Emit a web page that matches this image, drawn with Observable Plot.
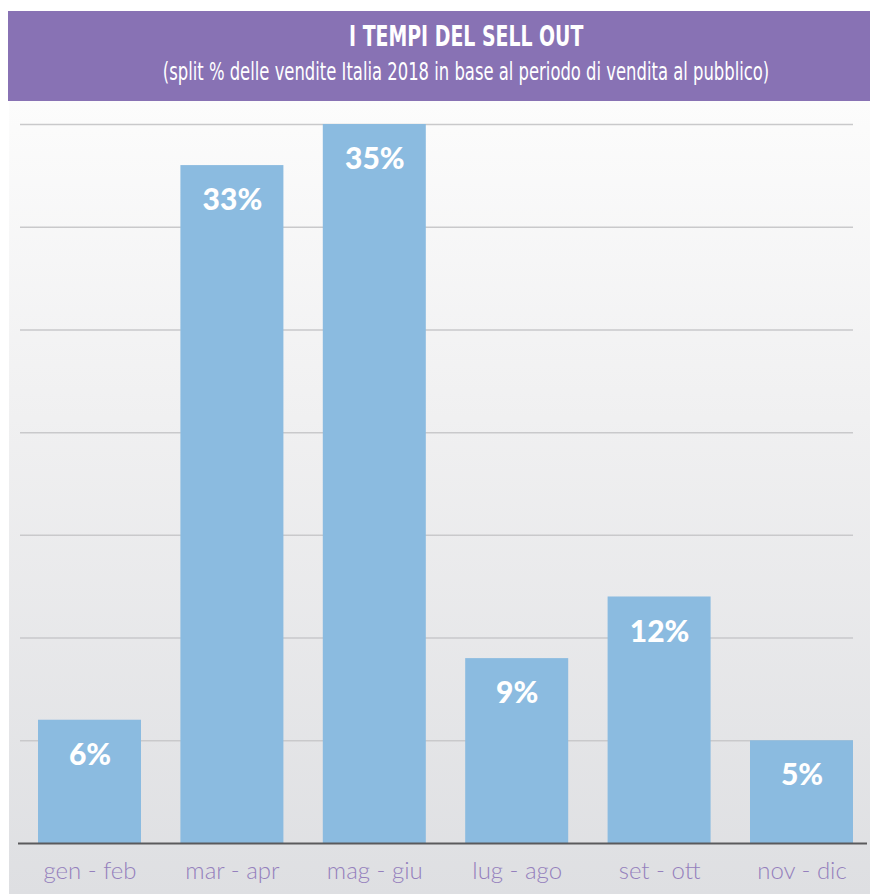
<!DOCTYPE html>
<html>
<head>
<meta charset="utf-8">
<script src="https://cdn.jsdelivr.net/npm/d3@7"></script>
<script src="https://cdn.jsdelivr.net/npm/@observablehq/plot@0.6"></script>
<style>
  html, body { margin: 0; padding: 0; background: #ffffff; }
  #header {
    position: absolute; left: 8px; top: 11px; width: 862px; height: 90px;
    background: #8872b4; color: #ffffff; text-align: center;
    font-family: "DejaVu Sans Condensed", "Liberation Sans Narrow", sans-serif;
  }
  #title { font-weight: bold; font-size: 28px; position: absolute; left: 54px; right: 0; top: 11px; line-height: 30px; }
  #subtitle { font-size: 24px; position: absolute; left: 54px; right: 0; top: 47px; line-height: 28px; }
  #title span { display: inline-block; transform: scaleX(0.75); transform-origin: center; white-space: nowrap; }
  #subtitle span { display: inline-block; transform: scaleX(0.76); transform-origin: center; white-space: nowrap; }
  #chart {
    position: absolute; left: 9px; top: 101px; width: 861px; height: 793px;
    background: linear-gradient(to bottom, #fcfcfc 0%, #f0f0f1 40%, #dedfe2 100%);
  }
  #chart svg { display: block; background: transparent; }
</style>
</head>
<body>
<div id="header">
  <div id="title"><span>I TEMPI DEL SELL OUT</span></div>
  <div id="subtitle"><span>(split % delle vendite Italia 2018 in base al periodo di vendita al pubblico)</span></div>
</div>
<div id="chart"></div>
<script>
const periods = ["gen - feb", "mar - apr", "mag - giu", "lug - ago", "set - ott", "nov - dic"];
const shares = [6, 33, 35, 9, 12, 5];
const gridTicks = [5, 10, 15, 20, 25, 30, 35];

const data = periods.map((p, i) => ({period: p, share: shares[i]}));

const chart = Plot.plot({
  width: 861,
  height: 793,
  marginTop: 23,
  marginBottom: 51,
  marginLeft: 11,
  marginRight: 17,
  style: {background: "transparent"},
  x: {domain: periods, range: [29, 844], paddingInner: 0.2767, paddingOuter: 0, round: false, label: null},
  y: {domain: [0, 35], axis: null},
  marks: [
    Plot.ruleY(gridTicks, {stroke: "#c9c9cb", strokeWidth: 1.5}),
    Plot.barY(data, {x: "period", y: "share", fill: "#8bbbe0"}),
    Plot.ruleY([0], {stroke: "#5a5a5c", strokeWidth: 2, insetLeft: -2, insetRight: -14}),
    Plot.text(data, {
      x: "period", y: "share", text: d => `${d.share}%`, dy: 35,
      fill: "#ffffff", fontSize: 30, fontWeight: 900,
      fontFamily: "Lato, 'Open Sans', sans-serif"
    }),
    Plot.axisX({
      tickSize: 0, tickPadding: 18, fontSize: 24, label: null,
      fill: "#9580bd", color: "#9580bd",
      fontFamily: "Lato, sans-serif", fontWeight: 300
    })
  ]
});
document.getElementById("chart").appendChild(chart);
</script>
</body>
</html>
